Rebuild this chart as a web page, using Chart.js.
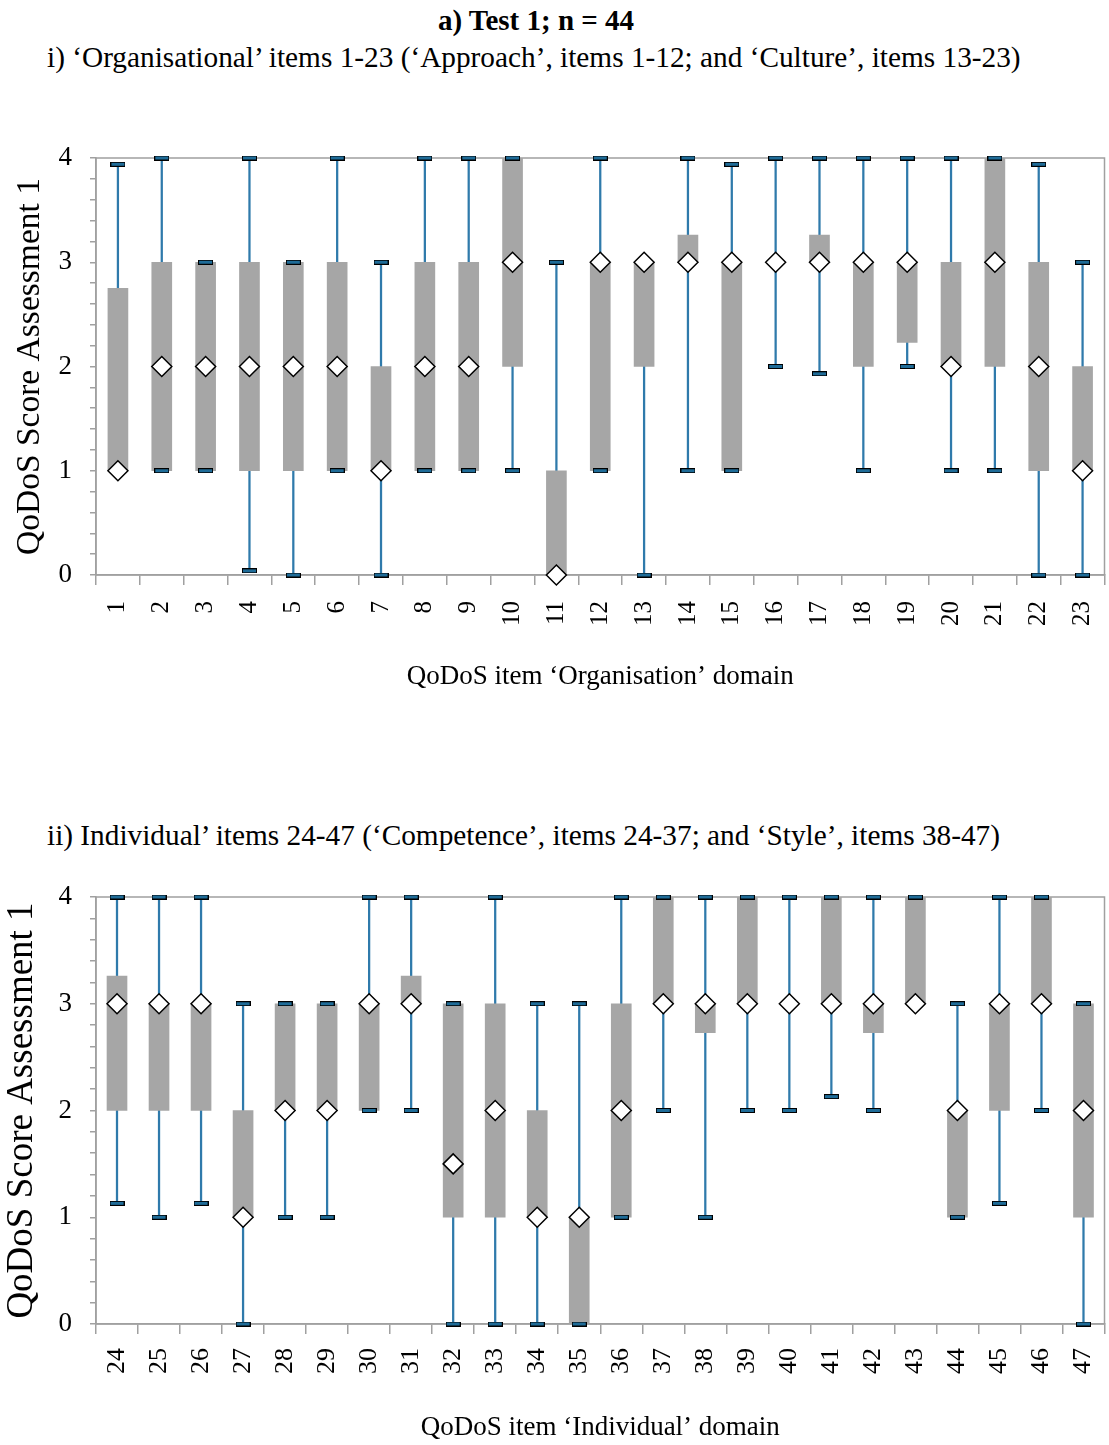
<!DOCTYPE html>
<html>
<head>
<meta charset="utf-8">
<script src="https://cdn.jsdelivr.net/npm/chart.js@4.4.1/dist/chart.umd.min.js"></script>
<style>
  body { margin: 0; background: #fff; width: 1109px; height: 1445px; position: relative; overflow: hidden; font-family: "Liberation Serif", serif; color: #000; }
  .txt { position: absolute; white-space: nowrap; line-height: 33px; }
  canvas { position: absolute; left: 0; }
</style>
</head>
<body>
<div class="txt" style="left:0;width:1072px;text-align:center;top:4px;font-size:29px;font-weight:bold">a) Test 1; n = 44</div>
<div class="txt" style="left:47px;top:41px;font-size:29.3px">i) ‘Organisational’ items 1-23 (‘Approach’, items 1-12; and ‘Culture’, items 13-23)</div>
<canvas id="grafico1" width="1116" height="570" style="top:140px"></canvas>
<div class="txt" style="left:47px;top:819px;font-size:29.3px">ii) Individual’ items 24-47 (‘Competence’, items 24-37; and ‘Style’, items 38-47)</div>
<canvas id="grafico2" width="1116" height="575" style="top:870px"></canvas>

<script>
// Dados: itens 'Organisation' (1-23)
const orgItems = ["1","2","3","4","5","6","7","8","9","10","11","12","13","14","15","16","17","18","19","20","21","22","23"];
const orgMin    = [1, 1, 1, 0.04, 0, 1, 0, 1, 1, 1, 0, 1, 0, 1, 1, 2, 1.93, 1, 2, 1, 1, 0, 0];
const orgQ1     = [1, 1, 1, 1, 1, 1, 1, 1, 1, 2, 0, 1, 2, 3, 1, 3, 3, 2, 2.23, 2, 2, 1, 1];
const orgMedian = [1, 2, 2, 2, 2, 2, 1, 2, 2, 3, 0, 3, 3, 3, 3, 3, 3, 3, 3, 2, 3, 2, 1];
const orgQ3     = [2.75, 3, 3, 3, 3, 3, 2, 3, 3, 4, 1, 3, 3, 3.26, 3, 3, 3.26, 3, 3, 3, 4, 3, 2];
const orgMax    = [3.94, 4, 3, 4, 3, 4, 3, 4, 4, 4, 3, 4, 3, 4, 3.94, 4, 4, 4, 4, 4, 4, 3.94, 3];

// Dados: itens 'Individual' (24-47)
const indItems  = ["24","25","26","27","28","29","30","31","32","33","34","35","36","37","38","39","40","41","42","43","44","45","46","47"];
const indMin    = [1.13, 1, 1.13, 0, 1, 1, 2, 2, 0, 0, 0, 0, 1, 2, 1, 2, 2, 2.13, 2, 3, 1, 1.13, 2, 0];
const indQ1     = [2, 2, 2, 1, 2, 2, 2, 3, 1, 1, 1, 0, 1, 3, 2.73, 3, 3, 3, 2.73, 3, 1, 2, 3, 1];
const indMedian = [3, 3, 3, 1, 2, 2, 3, 3, 1.5, 2, 1, 1, 2, 3, 3, 3, 3, 3, 3, 3, 2, 3, 3, 2];
const indQ3     = [3.26, 3, 3, 2, 3, 3, 3, 3.26, 3, 3, 2, 1, 3, 4, 3, 4, 3, 4, 3, 4, 2, 3, 4, 3];
const indMax    = [4, 4, 4, 3, 3, 3, 4, 4, 3, 4, 3, 3, 4, 4, 4, 4, 4, 4, 4, 4, 3, 4, 4, 3];

const yTicks = [0, 1, 2, 3, 4];

const FONTE = "Liberation Serif";
const CINZA_EIXO = "#a0a0a0";

// marca das extremidades (min / max)
const capa = document.createElement("canvas");
capa.width = 15;
capa.height = 5;
(function () {
  const c = capa.getContext("2d");
  c.fillStyle = "#000";
  c.fillRect(0, 0, 15, 5);
  c.fillStyle = "#1f6c98";
  c.fillRect(1, 1, 13, 3);
})();

// moldura da área do gráfico
const moldura = {
  id: "moldura",
  beforeDatasetsDraw(chart) {
    const { ctx, chartArea: a } = chart;
    ctx.save();
    ctx.strokeStyle = CINZA_EIXO;
    ctx.lineWidth = 1.5;
    ctx.strokeRect(a.left, a.top, a.right - a.left, a.bottom - a.top);
    ctx.restore();
  },
};

function mostrarGrafico(id, itens, minimo, q1, mediana, q3, maximo, cfg) {
  const caixa = itens.map((_, i) => [q1[i], q3[i]]);
  const bigode = itens.map((_, i) => [minimo[i], maximo[i]]);

  return new Chart(document.getElementById(id), {
    data: {
      labels: itens,
      datasets: [
        {
          type: "line",
          label: "Mediana",
          data: mediana,
          showLine: false,
          pointStyle: "rectRot",
          pointRadius: 10,
          pointBackgroundColor: "#ffffff",
          pointBorderColor: "#000000",
          pointBorderWidth: 1.5,
          clip: false,
          order: 0,
        },
        {
          type: "line",
          label: "Máximo",
          data: maximo,
          showLine: false,
          pointStyle: capa,
          pointRadius: 4,
          clip: false,
          order: 1,
        },
        {
          type: "line",
          label: "Mínimo",
          data: minimo,
          showLine: false,
          pointStyle: capa,
          pointRadius: 4,
          clip: false,
          order: 1,
        },
        {
          type: "bar",
          label: "Q1-Q3",
          data: caixa,
          backgroundColor: "#a6a6a6",
          barThickness: 20,
          grouped: false,
          order: 2,
        },
        {
          type: "bar",
          label: "Min-Max",
          data: bigode,
          backgroundColor: "#2f7aab",
          barThickness: 1.6,
          grouped: false,
          order: 3,
        },
      ],
    },
    options: {
      responsive: false,
      animation: false,
      layout: { padding: { top: cfg.padTop, right: 5, left: 0, bottom: 0 } },
      plugins: { legend: { display: false }, tooltip: { enabled: false } },
      scales: {
        x: {
          type: "category",
          offset: true,
          grid: { offset: true, drawOnChartArea: false, tickLength: 10, color: CINZA_EIXO, lineWidth: 1.5 },
          border: { color: CINZA_EIXO, width: 1.5 },
          ticks: {
            minRotation: 90,
            maxRotation: 90,
            autoSkip: false,
            padding: cfg.xTickPad,
            color: "#000",
            font: { family: FONTE, size: cfg.xTickSize },
          },
          title: {
            display: true,
            text: cfg.xTitle,
            color: "#000",
            font: { family: FONTE, size: 27 },
            padding: { top: 0, bottom: cfg.xTitlePad },
          },
          afterFit: (s) => {
            s.height = cfg.xHeight;
            s.paddingLeft = 0;
            s.paddingRight = 0;
          },
        },
        y: {
          min: 0,
          max: 4,
          grid: { drawOnChartArea: false, tickLength: 6, color: CINZA_EIXO, lineWidth: 1.5 },
          border: { color: CINZA_EIXO, width: 1.5 },
          ticks: {
            stepSize: 0.2,
            autoSkip: false,
            padding: 18,
            color: "#000",
            font: { family: FONTE, size: 27 },
            callback: (v) => {
              const r = Math.round(v);
              return Math.abs(v - r) < 1e-6 && yTicks.includes(r) ? String(r) : "";
            },
          },
          title: {
            display: true,
            text: "QoDoS Score Assessment 1",
            color: "#000",
            font: { family: FONTE, size: cfg.yTitleSize },
            padding: { top: cfg.yTitlePad, bottom: 0 },
          },
          afterFit: (s) => {
            s.width = 96;
            s.paddingTop = 0;
            s.paddingBottom = 0;
          },
        },
      },
    },
    plugins: [moldura],
  });
}

mostrarGrafico("grafico1", orgItems, orgMin, orgQ1, orgMedian, orgQ3, orgMax, {
  padTop: 18,
  xHeight: 135,
  xTickPad: 16,
  xTickSize: 25,
  xTitle: "QoDoS item ‘Organisation’ domain",
  xTitlePad: 17,
  yTitleSize: 33.5,
  yTitlePad: 10,
});

mostrarGrafico("grafico2", indItems, indMin, indQ1, indMedian, indQ3, indMax, {
  padTop: 27,
  xHeight: 121,
  xTickPad: 14,
  xTickSize: 26,
  xTitle: "QoDoS item ‘Individual’ domain",
  xTitlePad: 1,
  yTitleSize: 37,
  yTitlePad: 0,
});
</script>
</body>
</html>
